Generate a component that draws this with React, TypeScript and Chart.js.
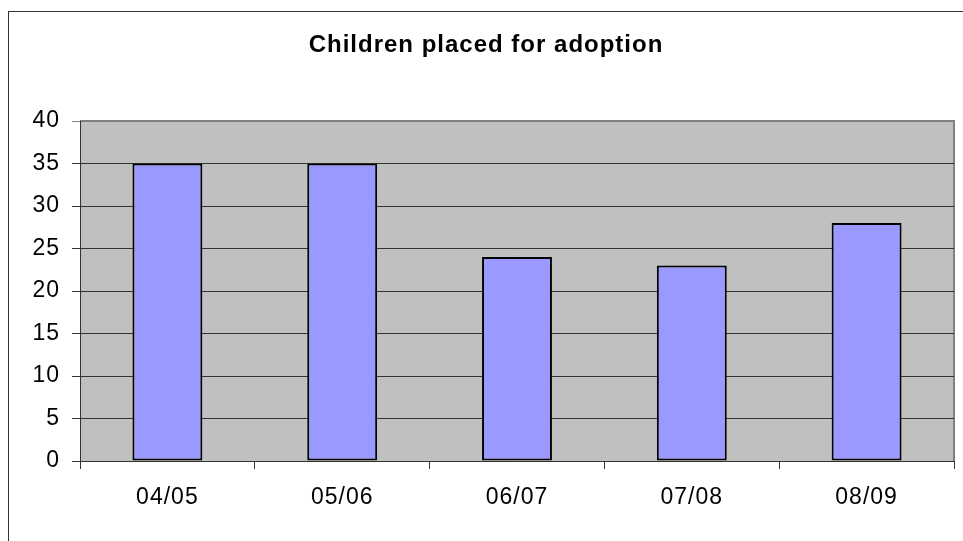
import React, { useEffect, useRef } from "react";
import { Chart, registerables } from "chart.js";

Chart.register(...registerables);

const categories = ["04/05", "05/06", "06/07", "07/08", "08/09"];
const placements = [35, 35, 24, 23, 28];
const yMin = 0;
const yMax = 40;
const yStep = 5;
const titleText = "Children placed for adoption";

const FONT = "'Liberation Sans', Arial, sans-serif";

// Paints the white sheet, its frame, the grey plot area and the title.
const framePlugin = {
  id: "frame",
  beforeDraw(chart: any) {
    const ctx = chart.ctx as CanvasRenderingContext2D;
    (ctx as any).letterSpacing = "1px";
    const { left, top, right, bottom } = chart.chartArea;
    ctx.save();
    ctx.fillStyle = "#ffffff";
    ctx.fillRect(0, 0, chart.width, chart.height);
    ctx.strokeStyle = "#333333";
    ctx.lineWidth = 1;
    ctx.strokeRect(8.5, 11.5, chart.width + 20, chart.height + 20);
    ctx.fillStyle = "#C0C0C0";
    ctx.fillRect(left, top, right - left, bottom - top);
    ctx.strokeStyle = "#808080";
    ctx.lineWidth = 2;
    ctx.beginPath();
    ctx.moveTo(left, top);
    ctx.lineTo(right, top);
    ctx.lineTo(right, bottom);
    ctx.stroke();
    ctx.fillStyle = "#000000";
    ctx.font = `bold 24px ${FONT}`;
    ctx.textAlign = "center";
    ctx.textBaseline = "middle";
    ctx.fillText(titleText, 486, 45);
    ctx.restore();
  },
};

export default function App() {
  const canvasRef = useRef<HTMLCanvasElement | null>(null);

  useEffect(() => {
    if (!canvasRef.current) return;
    const chart = new Chart(canvasRef.current, {
      type: "bar",
      data: {
        labels: categories,
        datasets: [
          {
            label: titleText,
            data: placements,
            backgroundColor: "#9999FF",
            borderColor: "#000000",
            borderWidth: 2,
            borderSkipped: false,
            barPercentage: 0.4,
            categoryPercentage: 1,
          },
        ],
      },
      options: {
        animation: false,
        responsive: false,
        maintainAspectRatio: false,
        layout: { padding: { left: 0, top: 121, right: 9, bottom: 0 } },
        plugins: {
          legend: { display: false },
          title: { display: false },
          tooltip: { enabled: false },
        },
        scales: {
          x: {
            offset: true,
            afterFit: (s: any) => {
              s.height = 80;
            },
            grid: {
              offset: true,
              drawOnChartArea: false,
              tickLength: 8,
              color: "#333333",
              lineWidth: 1,
            },
            border: { color: "#333333", width: 1 },
            ticks: {
              color: "#000000",
              font: { family: FONT, size: 23 },
              padding: 15,
              maxRotation: 0,
            },
          },
          y: {
            min: yMin,
            max: yMax,
            afterFit: (s: any) => {
              s.width = 80;
            },
            grid: {
              tickLength: 8,
              lineWidth: 1,
              color: (c: any) =>
                c.tick && c.tick.value === yMax ? "#808080" : "#333333",
            },
            border: { color: "#333333", width: 1 },
            ticks: {
              stepSize: yStep,
              color: "#000000",
              font: { family: FONT, size: 23 },
              padding: 12,
            },
          },
        },
      },
      plugins: [framePlugin],
    });
    return () => chart.destroy();
  }, []);

  return (
    <div style={{ position: "fixed", left: 0, top: 0, width: 963, height: 541 }}>
      <canvas ref={canvasRef} width={963} height={541} />
    </div>
  );
}
